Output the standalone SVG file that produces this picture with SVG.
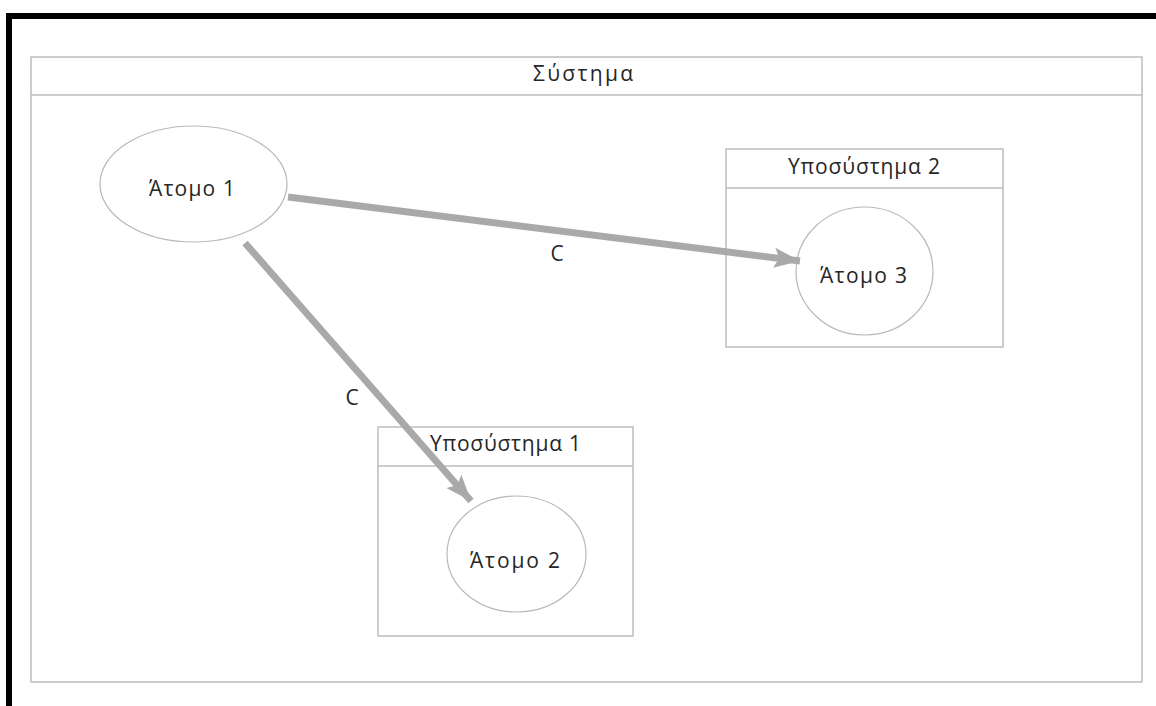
<svg xmlns="http://www.w3.org/2000/svg" width="1156" height="706" viewBox="0 0 1156 706">
  <style>
    .frame { fill: none; stroke: #000; stroke-width: 6; }
    .box { fill: #fff; stroke: #bdbdbd; stroke-width: 1.5; }
    .sep { stroke: #bdbdbd; stroke-width: 1.5; }
    .atom { fill: #fff; stroke: #b8b8b8; stroke-width: 1.2; }
    .lbl { font-family: "Open Sans", "Liberation Sans", sans-serif; font-size: 21px; fill: #262626; text-anchor: middle; }
    .flow { stroke: #a9a9a9; stroke-width: 7; fill: none; marker-end: url(#head); }
  </style>
  <defs>
    <marker id="head" markerUnits="userSpaceOnUse" markerWidth="28" markerHeight="22" refX="26" refY="11" orient="auto">
      <path d="M0,1 L26,11 L0,21 L5,11 Z" fill="#a9a9a9"/>
    </marker>
  </defs>

  <rect width="1156" height="706" fill="#fff"/>
  <!-- page frame -->
  <path class="frame" d="M9,706 L9,16 L1156,16"/>

  <g id="system">
    <rect class="box" x="31" y="57" width="1111" height="625"/>
    <line class="sep" x1="31" y1="95" x2="1142" y2="95"/>
    <text class="lbl" x="583" y="81" textLength="100" lengthAdjust="spacing">Σύστημα</text>
  </g>

  <g id="subsystem2">
    <rect class="box" x="726" y="149" width="277" height="198"/>
    <line class="sep" x1="726" y1="188" x2="1003" y2="188"/>
    <text class="lbl" x="864" y="174" textLength="152" lengthAdjust="spacing">Υποσύστημα 2</text>
  </g>

  <g id="subsystem1">
    <rect class="box" x="378" y="427" width="255" height="209"/>
    <line class="sep" x1="378" y1="466" x2="633" y2="466"/>
    <text class="lbl" x="505.5" y="451" textLength="151" lengthAdjust="spacing">Υποσύστημα 1</text>
  </g>

  <g id="atom1">
    <ellipse class="atom" cx="193.5" cy="184" rx="93.5" ry="58"/>
    <text class="lbl" x="192" y="196" textLength="86" lengthAdjust="spacing">Άτομο 1</text>
  </g>

  <g id="atom3">
    <ellipse class="atom" cx="864.5" cy="271" rx="68.5" ry="64"/>
    <text class="lbl" x="863.5" y="283" textLength="87" lengthAdjust="spacing">Άτομο 3</text>
  </g>

  <g id="atom2">
    <ellipse class="atom" cx="516.5" cy="554" rx="69.5" ry="58"/>
    <text class="lbl" x="515" y="568" textLength="90" lengthAdjust="spacing">Άτομο 2</text>
  </g>

  <g id="connectors">
    <line class="flow" x1="288" y1="197" x2="800" y2="261"/>
    <text class="lbl" x="557" y="261">C</text>
    <line class="flow" x1="245" y1="243" x2="471" y2="501"/>
    <text class="lbl" x="352" y="405">C</text>
  </g>
</svg>
